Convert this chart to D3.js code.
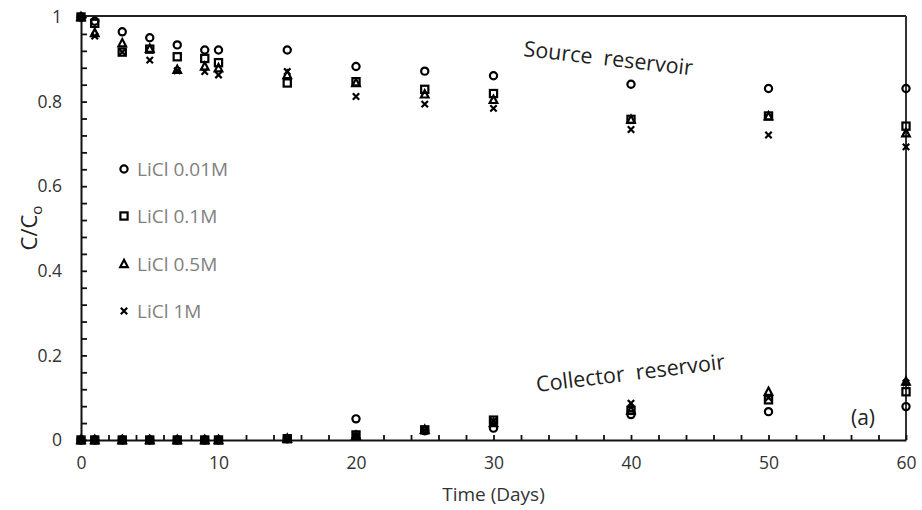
<!DOCTYPE html>
<html>
<head>
<meta charset="utf-8">
<script src="https://cdn.jsdelivr.net/npm/d3@7"></script>
<style>
  body { margin: 0; background: #fff; }
  svg { display: block; }
  text { font-family: "Open Sans", "Noto Sans", sans-serif; }
</style>
</head>
<body>
<svg id="svg" width="922" height="510"></svg>
<script>
var days = [0, 1, 3, 5, 7, 9, 10, 15, 20, 25, 30, 40, 50, 60];

var seriesNames = ['LiCl 0.01M', 'LiCl 0.1M', 'LiCl 0.5M', 'LiCl 1M'];
var seriesShapes = ['circle', 'square', 'triangle', 'cross'];

// source reservoir C/C0
var source001 = [1, 0.99, 0.965, 0.951, 0.934, 0.922, 0.922, 0.922, 0.883, 0.872, 0.861, 0.841, 0.831, 0.831];
var source01  = [1, 0.985, 0.917, 0.924, 0.906, 0.902, 0.892, 0.844, 0.847, 0.829, 0.819, 0.758, 0.766, 0.742];
var source05  = [1, 0.962, 0.938, 0.925, 0.875, 0.883, 0.879, 0.863, 0.844, 0.817, 0.804, 0.757, 0.765, 0.725];
var source1   = [1, 0.955, 0.917, 0.898, 0.873, 0.871, 0.863, 0.871, 0.812, 0.794, 0.784, 0.734, 0.721, 0.693];

// collector reservoir C/C0
var collector001 = [0, 0, 0, 0, 0, 0, 0, 0.003, 0.05, 0.022, 0.028, 0.06, 0.067, 0.079];
var collector01  = [0, 0, 0, 0, 0, 0, 0, 0.003, 0.012, 0.024, 0.047, 0.07, 0.095, 0.114];
var collector05  = [0, 0, 0, 0, 0, 0, 0, 0.003, 0.01, 0.024, 0.04, 0.07, 0.114, 0.138];
var collector1   = [0, 0, 0, 0, 0, 0, 0, 0.003, 0.01, 0.022, 0.045, 0.087, 0.1, 0.135];

var xTicks = [0, 10, 20, 30, 40, 50, 60];
var yTicks = [0, 0.2, 0.4, 0.6, 0.8, 1];

var svg = d3.select('svg');
var plotLeft = 81, plotRight = 906, plotTop = 17, plotBottom = 440;

var x = d3.scaleLinear().domain([0, 60]).range([plotLeft, plotRight]);
var y = d3.scaleLinear().domain([0, 1]).range([plotBottom, plotTop]);

// frame
svg.append('line').attr('x1', plotLeft).attr('x2', plotRight).attr('y1', plotTop - 1).attr('y2', plotTop - 1)
  .attr('stroke', '#222').attr('stroke-width', 2);
svg.append('line').attr('x1', plotRight).attr('x2', plotRight).attr('y1', plotTop - 1).attr('y2', plotBottom)
  .attr('stroke', '#333').attr('stroke-width', 2);

// minor ticks
var yMinor = svg.append('g').attr('transform', 'translate(' + plotLeft + ',0)')
  .call(d3.axisLeft(y).tickValues(d3.range(0, 1.001, 0.04)).tickSizeInner(-6).tickSizeOuter(0).tickFormat(''));
var xMinor = svg.append('g').attr('transform', 'translate(0,' + plotBottom + ')')
  .call(d3.axisBottom(x).tickValues(d3.range(0, 60.1, 2)).tickSizeInner(-5).tickSizeOuter(0).tickFormat(''));
[yMinor, xMinor].forEach(function (g) {
  g.select('.domain').attr('stroke', '#111').attr('stroke-width', 2);
  g.selectAll('.tick line').attr('stroke', '#111').attr('stroke-width', 1.8);
});

// tick labels
var yLab = svg.append('g').attr('transform', 'translate(' + plotLeft + ',0)')
  .call(d3.axisLeft(y).tickValues(yTicks).tickSize(0).tickPadding(19).tickFormat(d3.format('')));
var xLab = svg.append('g').attr('transform', 'translate(0,' + plotBottom + ')')
  .call(d3.axisBottom(x).tickValues(xTicks).tickSize(0).tickPadding(17).tickFormat(d3.format('')));
[yLab, xLab].forEach(function (g) {
  g.select('.domain').remove();
  g.selectAll('text').attr('font-size', 17.5).attr('fill', '#333')
    .attr('font-family', '"Open Sans", sans-serif');
});

// axis titles
svg.append('text').attr('x', x(30)).attr('y', 501).attr('text-anchor', 'middle')
  .attr('font-size', 19).attr('fill', '#333').text('Time (Days)');
var yt = svg.append('text').attr('transform', 'translate(37,228) rotate(-90)')
  .attr('text-anchor', 'middle').attr('font-size', 22).attr('fill', '#222');
yt.append('tspan').text('C/C');
yt.append('tspan').attr('font-size', 15).attr('dy', 5).text('o');

// markers
function marker(sel, shape) {
  if (shape === 'circle') {
    sel.append('circle').attr('r', 3.6);
  } else if (shape === 'square') {
    sel.append('rect').attr('x', -3.6).attr('y', -3.6).attr('width', 7.2).attr('height', 7.2);
  } else if (shape === 'triangle') {
    sel.append('path').attr('d', 'M0,-4.2L3.8,3.1L-3.8,3.1Z');
  } else {
    sel.append('path').attr('d', 'M-3.2,-3.2L3.2,3.2M-3.2,3.2L3.2,-3.2');
  }
  sel.attr('fill', 'none').attr('stroke', '#000').attr('stroke-width', 2.2);
}

var sourceSets = [source001, source01, source05, source1];
var collectorSets = [collector001, collector01, collector05, collector1];

seriesShapes.forEach(function (shape, i) {
  [sourceSets[i], collectorSets[i]].forEach(function (vals) {
    svg.append('g').selectAll('g').data(days).enter().append('g')
      .attr('transform', function (d, j) { return 'translate(' + x(d) + ',' + y(vals[j]) + ')'; })
      .each(function () { marker(d3.select(this), shape); });
  });
});

// legend
var legendY = [169, 216, 264, 311];
seriesNames.forEach(function (name, i) {
  var g = svg.append('g').attr('transform', 'translate(124,' + legendY[i] + ')');
  marker(g.append('g'), seriesShapes[i]);
  g.append('text').attr('x', 13).attr('y', 6.5).attr('font-size', 19).attr('fill', '#808080').text(name);
});

// annotations
svg.append('text').attr('transform', 'translate(523,56) rotate(6.5)')
  .attr('font-size', 21.5).attr('fill', '#222').attr('xml:space', 'preserve').text('Source  reservoir');
svg.append('text').attr('transform', 'translate(537,392) rotate(-7)')
  .attr('font-size', 21.5).attr('fill', '#222').attr('xml:space', 'preserve').text('Collector  reservoir');
svg.append('text').attr('x', 851).attr('y', 425).attr('font-size', 21).attr('fill', '#222').text('(a)');
</script>
</body>
</html>
